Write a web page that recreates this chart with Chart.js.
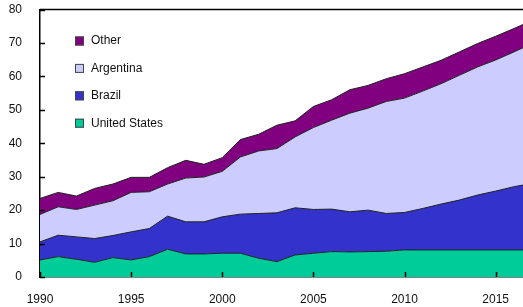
<!DOCTYPE html>
<html>
<head>
<meta charset="utf-8">
<script src="https://cdn.jsdelivr.net/npm/chart.js@4/dist/chart.umd.min.js"></script>
<style>
  html, body { margin:0; padding:0; background:#fff; }
  #wrap { width:523px; height:307px; }
</style>
</head>
<body>
<div id="wrap"><canvas id="c" width="523" height="307"></canvas></div>
<script>
const years = [1990,1991,1992,1993,1994,1995,1996,1997,1998,1999,2000,2001,2002,2003,
  2004,2005,2006,2007,2008,2009,2010,2011,2012,2013,2014,2015,2016,2017];
const unitedStates = [5.1,6.1,5.3,4.4,5.8,5.1,6.1,8.3,6.9,6.9,7.1,7.1,5.6,4.6,
  6.6,7.1,7.6,7.5,7.6,7.7,8.1,8.1,8.1,8.1,8.1,8.1,8.1,8.1];
const brazil = [5.4,6.4,6.7,7.1,6.6,8.4,8.4,9.9,9.6,9.6,10.9,11.7,13.4,14.6,
  14.1,13.1,12.7,12.0,12.4,11.3,11.2,12.4,13.7,14.9,16.4,17.6,18.9,19.9];
const argentina = [8.2,8.5,8.2,10.0,10.4,11.8,11.0,9.6,13.1,13.4,13.6,17.1,18.7,19.2,
  21.2,24.5,26.6,29.5,30.5,33.5,34.2,35.1,36.0,37.3,38.3,39.2,40.3,41.8];
const other = [4.8,4.3,4.0,5.0,5.0,4.5,4.3,4.9,5.3,3.8,4.1,5.2,5.0,7.0,
  4.8,6.3,6.1,7.0,6.8,6.8,7.3,7.2,7.0,7.0,7.0,7.1,7.0,6.9];
const xTicks = [1990,1995,2000,2005,2010,2015];
const yTicks = [0,10,20,30,40,50,60,70,80];

const FONT = 'Liberation Sans, Arial, sans-serif';

function series(label, vals, color, fill) {
  return {
    label, fill,
    data: years.map((y,i) => ({x:y, y:vals[i]})),
    backgroundColor: color,
    borderColor: '#222',
    borderWidth: 1,
    pointRadius: 0,
    tension: 0
  };
}

// inward tick marks, top frame line and the legend inside the plot
const decor = {
  id: 'decor',
  afterDraw(chart) {
    const ctx = chart.ctx, a = chart.chartArea;
    const xs = chart.scales.x, ys = chart.scales.y;
    ctx.save();
    ctx.strokeStyle = '#000';
    ctx.lineWidth = 1.5;
    ctx.beginPath();
    ctx.moveTo(a.left, a.top); ctx.lineTo(a.right, a.top);
    yTicks.forEach(v => {
      const py = Math.round(ys.getPixelForValue(v)) + 0.5;
      ctx.moveTo(a.left, py); ctx.lineTo(a.left + 5, py);
    });
    xTicks.forEach(v => {
      const px = Math.round(xs.getPixelForValue(v)) + 0.5;
      ctx.moveTo(px, a.bottom); ctx.lineTo(px, a.bottom - 5);
    });
    ctx.stroke();

    const items = chart.data.datasets.slice().reverse();
    ctx.font = '12px ' + FONT;
    ctx.textBaseline = 'middle';
    items.forEach((ds, i) => {
      const cy = 41 + i * 27.4;
      ctx.fillStyle = ds.backgroundColor;
      ctx.fillRect(75, cy - 4.5, 9, 9);
      ctx.lineWidth = 1;
      ctx.strokeStyle = '#444';
      ctx.strokeRect(75.5, cy - 4, 8, 8);
      ctx.fillStyle = '#111';
      ctx.fillText(ds.label, 91, cy);
    });
    ctx.restore();
  }
};

new Chart(document.getElementById('c'), {
  type: 'line',
  data: {
    datasets: [
      series('United States', unitedStates, '#00CC99', 'origin'),
      series('Brazil', brazil, '#3333CC', '-1'),
      series('Argentina', argentina, '#CCCCFF', '-1'),
      series('Other', other, '#800080', '-1')
    ]
  },
  options: {
    responsive: false,
    animation: false,
    layout: { padding: { top: 9.5, right: 0, left: 0, bottom: 0 } },
    plugins: { legend: { display: false }, tooltip: { enabled: false } },
    scales: {
      x: {
        type: 'linear', min: 1990, max: 2016.5,
        grid: { display: false },
        border: { display: true, color: '#000', width: 1.5 },
        afterBuildTicks: s => { s.ticks = xTicks.map(v => ({value: v})); },
        afterFit: s => { s.height = 30; s.paddingRight = 0; },
        ticks: { color: '#111', font: { family: FONT, size: 12 }, padding: 7,
          maxRotation: 0, autoSkip: false, callback: v => String(v) }
      },
      y: {
        stacked: true, min: 0, max: 80,
        grid: { display: false },
        border: { display: true, color: '#000', width: 1.5 },
        afterBuildTicks: s => { s.ticks = yTicks.map(v => ({value: v})); },
        afterFit: s => { s.width = 40; s.paddingTop = 0; s.paddingBottom = 0; },
        ticks: { color: '#111', font: { family: FONT, size: 12 }, padding: 10 }
      }
    }
  },
  plugins: [decor]
});
</script>
</body>
</html>
